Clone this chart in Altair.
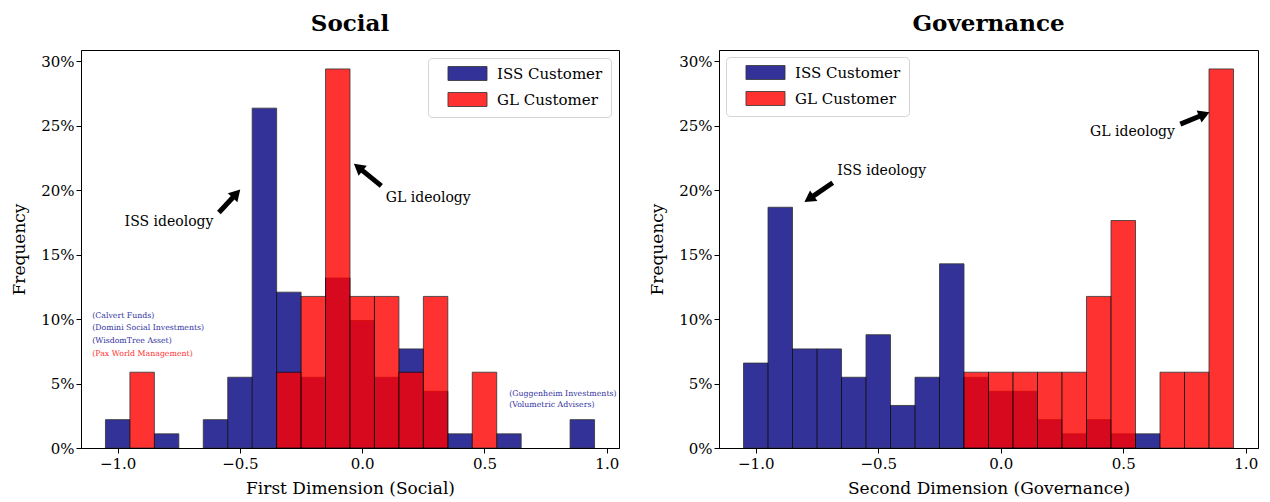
import math
import altair as alt
import pandas as pd

# ---------------- data ----------------
bin_centers = [-1.0, -0.9, -0.8, -0.7, -0.6, -0.5, -0.4, -0.3, -0.2, -0.1,
               0.0, 0.1, 0.2, 0.3, 0.4, 0.5, 0.6, 0.7, 0.8, 0.9]
groups = ["ISS Customer", "GL Customer"]

# frequency in percent
social_iss = [2.20, 0, 1.10, 0, 2.20, 5.49, 26.37, 12.09, 5.49, 13.19,
              9.89, 5.49, 7.69, 4.40, 1.10, 0, 1.10, 0, 0, 2.20]
social_gl = [0, 5.88, 0, 0, 0, 0, 0, 5.88, 11.76, 29.41,
             11.76, 11.76, 5.88, 11.76, 0, 5.88, 0, 0, 0, 0]
gov_iss = [6.59, 18.68, 7.69, 7.69, 5.49, 8.79, 3.30, 5.49, 14.29, 5.49,
           4.40, 4.40, 2.20, 1.10, 2.20, 1.10, 1.10, 0, 0, 0]
gov_gl = [0, 0, 0, 0, 0, 0, 0, 0, 0, 5.88,
          5.88, 5.88, 5.88, 5.88, 11.76, 17.65, 0, 5.88, 5.88, 29.41]

x_ticks = [-1.0, -0.5, 0.0, 0.5, 1.0]
y_ticks = [0, 5, 10, 15, 20, 25, 30]

# annotations: text, x, y
social_notes_text = ["ISS ideology", "GL ideology"]
social_notes_x = [-0.79, 0.27]
social_notes_y = [17.5, 19.4]
social_arrow_tail_x = [-0.586, 0.078]
social_arrow_tail_y = [18.27, 20.34]
social_arrow_tip_x = [-0.504, -0.028]
social_arrow_tip_y = [19.95, 21.97]

gov_notes_text = ["ISS ideology", "GL ideology"]
gov_notes_x = [-0.486, 0.538]
gov_notes_y = [21.5, 24.5]
gov_arrow_tail_x = [-0.686, 0.733]
gov_arrow_tail_y = [20.58, 25.13]
gov_arrow_tip_x = [-0.795, 0.845]
gov_arrow_tip_y = [19.16, 26.0]

fund_text = ["(Calvert Funds)", "(Domini Social Investments)", "(WisdomTree Asset)",
             "(Pax World Management)", "(Guggenheim Investments)", "(Volumetric Advisers)"]
fund_x = [-1.104, -1.104, -1.104, -1.104, 0.601, 0.601]
fund_y = [10.25, 9.29, 8.28, 7.27, 4.17, 3.32]
fund_group = ["ISS", "ISS", "ISS", "GL", "ISS", "ISS"]

# ---------------- styling ----------------
FONT = "DejaVu Serif"
X_DOMAIN = [-1.15, 1.05]
Y_DOMAIN = [0, 30.88]
W_L, W_R, H = 538, 539, 398
NAVY = "#000080"
RED = "#ff0000"


def bars_df(iss, gl):
    rows = []
    for g, vals in zip(groups, [iss, gl]):
        for c, v in zip(bin_centers, vals):
            if v > 0:
                rows.append({"group": g, "center": c, "x0": round(c - 0.05, 3),
                             "x1": round(c + 0.05, 3), "freq": v})
    return pd.DataFrame(rows)


def arrows_df(tx, ty, hx, hy, width):
    sx = width / (X_DOMAIN[1] - X_DOMAIN[0])
    sy = H / (Y_DOMAIN[1] - Y_DOMAIN[0])
    rows = []
    head_w = 13.0
    size = head_w ** 2
    h = math.sqrt(3) / 2 * head_w / 2
    for x0, y0, x1, y1 in zip(tx, ty, hx, hy):
        dx = (x1 - x0) * sx
        dy = -(y1 - y0) * sy
        L = math.hypot(dx, dy)
        ux, uy = dx / L, dy / L
        ang = math.degrees(math.atan2(ux, -uy)) % 360
        cx = x1 - ux * h / sx
        cy = y1 + uy * h / sy
        rows.append({"x0": x0, "y0": y0, "cx": cx, "cy": cy, "angle": ang, "size": size})
    return pd.DataFrame(rows)


def panel(title, xtitle, iss, gl, ntext, nx, ny, tx, ty, hx, hy, width, legend_orient, legend_offset, funds):
    xs = alt.Scale(domain=X_DOMAIN, nice=False, zero=False)
    ys = alt.Scale(domain=Y_DOMAIN, nice=False)
    color = alt.Color(
        "group:N",
        scale=alt.Scale(domain=groups, range=[NAVY, RED]),
        sort=groups,
        legend=alt.Legend(
            title=None, orient=legend_orient, offset=legend_offset,
            labelFont=FONT, labelFontSize=15, labelColor="black",
            symbolType="M-2.79,-1H2.79V1H-2.79Z", symbolSize=196,
            symbolStrokeColor="black", symbolStrokeWidth=0.8, symbolOpacity=0.8,
            fillColor="white", strokeColor="#d4d4d4", cornerRadius=4,
            padding=8, rowPadding=7, labelOffset=22, symbolOffset=24,
        ),
    )
    df = bars_df(iss, gl)
    base = alt.Chart(df).mark_bar(opacity=0.8, stroke="black", strokeWidth=0.8).encode(
        x=alt.X("x0:Q", scale=xs,
                axis=alt.Axis(values=x_ticks, format=".1f", title=xtitle, grid=False,
                              labelFont=FONT, labelFontSize=15, labelColor="black",
                              titleFont=FONT, titleFontSize=17, titleFontWeight="normal",
                              titleColor="black", tickColor="black", tickSize=5,
                              domainColor="black", labelPadding=3, titlePadding=9)),
        x2="x1:Q",
        y=alt.Y("freq:Q", scale=ys, stack=None,
                axis=alt.Axis(values=y_ticks, labelExpr="datum.value + '%'", title="Frequency",
                              grid=False, labelFont=FONT, labelFontSize=15, labelColor="black",
                              titleFont=FONT, titleFontSize=17, titleFontWeight="normal",
                              titleColor="black", tickColor="black", tickSize=5,
                              domainColor="black", labelPadding=2, titlePadding=12)),
        y2=alt.datum(0),
        color=color,
        order=alt.Order("gorder:Q"),
    ).transform_calculate(gorder="datum.group == 'ISS Customer' ? 0 : 1")

    notes = pd.DataFrame({"text": ntext, "x": nx, "y": ny})
    note_marks = alt.Chart(notes).mark_text(font=FONT, fontSize=14, color="black",
                                            align="center", baseline="middle").encode(
        x=alt.X("x:Q", scale=xs), y=alt.Y("y:Q", scale=ys), text="text:N")

    adf = arrows_df(tx, ty, hx, hy, width)
    shafts = alt.Chart(adf).mark_rule(color="black", strokeWidth=5).encode(
        x=alt.X("x0:Q", scale=xs), y=alt.Y("y0:Q", scale=ys),
        x2="cx:Q", y2="cy:Q")
    heads = alt.Chart(adf).mark_point(shape="triangle", filled=True, color="black",
                                      opacity=1, strokeWidth=0).encode(
        x=alt.X("cx:Q", scale=xs), y=alt.Y("cy:Q", scale=ys),
        angle=alt.Angle("angle:Q", scale=None), size=alt.Size("size:Q", scale=None))

    layers = [base, note_marks, shafts, heads]
    if funds is not None:
        fdf = pd.DataFrame({"text": fund_text, "x": fund_x, "y": fund_y, "g": fund_group})
        for g, col in [("ISS", "#3333a0"), ("GL", "#ff3333")]:
            layers.append(
                alt.Chart(fdf).transform_filter(alt.datum.g == g).mark_text(
                    font=FONT, fontSize=7.8, align="left", baseline="middle", color=col
                ).encode(x=alt.X("x:Q", scale=xs), y=alt.Y("y:Q", scale=ys), text="text:N"))

    return alt.layer(*layers).properties(
        width=width, height=H,
        title=alt.TitleParams(title, font=FONT, fontSize=23, fontWeight="bold",
                              color="black", anchor="middle", offset=14))


left = panel("Social", "First Dimension (Social)", social_iss, social_gl,
             social_notes_text, social_notes_x, social_notes_y,
             social_arrow_tail_x, social_arrow_tail_y, social_arrow_tip_x, social_arrow_tip_y,
             W_L, "top-right", 8, True)
right = panel("Governance", "Second Dimension (Governance)", gov_iss, gov_gl,
              gov_notes_text, gov_notes_x, gov_notes_y,
              gov_arrow_tail_x, gov_arrow_tail_y, gov_arrow_tip_x, gov_arrow_tip_y,
              W_R, "top-left", 7, None)

chart = alt.hconcat(left, right, spacing=28).resolve_scale(color="independent").resolve_legend(
    color="independent").configure(
    padding={"left": 2, "top": 4, "right": 2, "bottom": 2}
).configure_view(stroke="black", strokeWidth=1)

chart.save("out.html", embed_options={"renderer": "svg", "actions": False})
